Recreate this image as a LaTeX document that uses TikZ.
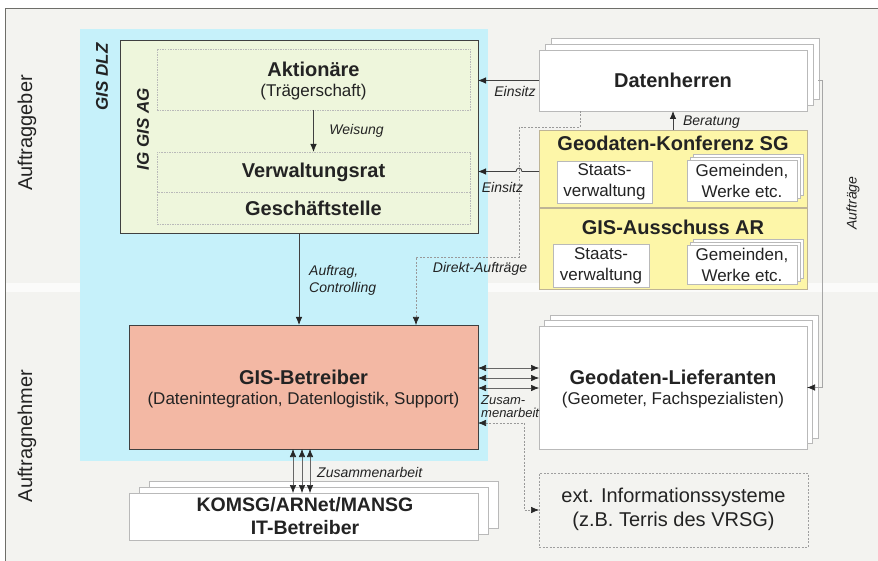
\documentclass[tikz,border=0pt]{standalone}
\usepackage{fontspec}
\setmainfont{Liberation Sans}
\usetikzlibrary{arrows.meta,shadows,calc}
\definecolor{bggray}{RGB}{243,243,240}
\definecolor{cyanfill}{RGB}{198,241,250}
\definecolor{greenfill}{RGB}{238,246,220}
\definecolor{yellowfill}{RGB}{253,246,168}
\definecolor{salmonfill}{RGB}{243,184,164}
\definecolor{framecol}{RGB}{110,110,105}
\definecolor{txtcol}{RGB}{35,35,35}
\definecolor{yborder}{RGB}{190,180,150}
\tikzset{
  plain/.style={inner sep=0, outer sep=0},
  cyanbox/.style={plain, fill=cyanfill},
  greenbox/.style={plain, fill=greenfill, draw=black!75, line width=1pt},
  rowbox/.style={plain, fill=greenfill, draw=gray!55, dash pattern=on 1.5pt off 1pt, line width=0.5pt},
  whitebox/.style={plain, fill=white, draw=gray!55, line width=0.5pt},
  yellowbox/.style={plain, fill=yellowfill, draw=yborder, line width=0.6pt},
  salmonbox/.style={plain, fill=salmonfill, draw=black!75, line width=1pt},
  extbox/.style={plain, draw=gray!75, dash pattern=on 2pt off 1.5pt, line width=0.6pt},
  stack/.style={double copy shadow={shadow xshift=#1, shadow yshift=#1, fill=white, draw=gray!55, line width=0.5pt}},
  headtxt/.style={inner sep=0, text=txtcol, font=\fontsize{20}{24}\selectfont\bfseries},
  subtxt/.style={inner sep=0, text=txtcol, font=\fontsize{17}{21}\selectfont},
  bigtxt/.style={inner sep=0, text=txtcol, font=\fontsize{20}{24}\selectfont},
  rottxt/.style={inner sep=0, text=txtcol, rotate=90, font=\fontsize{17}{20}\selectfont\bfseries\itshape},
  lab/.style={inner sep=0, text=txtcol, font=\fontsize{14}{17}\selectfont\itshape},
  smalllab/.style={inner sep=0, text=txtcol, font=\fontsize{13}{13}\selectfont\itshape},
  tip/.style={Latex[length=8pt,width=6.5pt,color=black!85]},
  arr/.style={-{Latex[length=8pt,width=6.5pt,color=black!85]}, draw=black!75, line width=0.8pt},
  darr/.style={{Latex[length=8pt,width=6.5pt,color=black!85]}-{Latex[length=8pt,width=6.5pt,color=black!85]}, draw=black!60, line width=0.6pt},
  dashln/.style={draw=gray!80, dash pattern=on 2pt off 1.5pt, line width=0.6pt},
  grayln/.style={draw=gray!70, line width=0.7pt},
}
\begin{document}
\begin{tikzpicture}[x=1pt,y=-1pt]
\useasboundingbox (0,0) rectangle (878,561);
\fill[white] (0,0) rectangle (878,561);
\fill[bggray] (5,9) rectangle (878,561);
\fill[white!70!bggray] (5,283) rectangle (878,292);
\draw[framecol, line width=1pt] (878,9) -- (5,9) -- (5,561);

% zones
\node[cyanbox, minimum width=408, minimum height=432] (dlz) at (284,245) {};
\node[bigtxt, rotate=90] (auftraggeber) at (27,133) {Auftraggeber};
\node[bigtxt, rotate=90] (auftragnehmer) at (27,436) {Auftragnehmer};
\node[rottxt] (gisdlz) at (102,77) {GIS DLZ};

% IG GIS AG
\node[greenbox, minimum width=358, minimum height=193] (ig) at (299,137.5) {};
\node[rowbox, minimum width=313, minimum height=61] (ak) at (313.5,79.5) {};
\node[rowbox, minimum width=313, minimum height=40] (vr) at (313.5,172) {};
\node[rowbox, minimum width=313, minimum height=32] (gs) at (313.5,208) {};
\node[rottxt] (iggisag) at (143,129) {IG GIS AG};
\node[headtxt] (akt) at (313.5,69) {Aktionäre};
\node[subtxt] (akts) at (313.5,92) {(Trägerschaft)};
\node[headtxt] (vrt) at (313.5,172) {Verwaltungsrat};
\node[headtxt] (gst) at (313.5,208) {Geschäftstelle};

% Datenherren
\node[whitebox, stack=6pt, minimum width=268, minimum height=61] (dh) at (673,80.5) {};
\node[headtxt] (dht) at (673,80) {Datenherren};

% Geodaten-Konferenz SG
\node[yellowbox, minimum width=268, minimum height=77] (gk) at (673,168.5) {};
\node[headtxt] (gkt) at (673,143) {Geodaten-Konferenz SG};
\node[whitebox, minimum width=95, minimum height=42, align=center, subtxt] (sv1) at (604.5,182) {Staats-\\verwaltung};
\node[whitebox, stack=3pt, minimum width=110, minimum height=41, align=center, subtxt] (gw1) at (742,180.5) {Gemeinden,\\Werke etc.};

% GIS-Ausschuss AR
\node[yellowbox, minimum width=268, minimum height=81] (ga) at (673,248.5) {};
\node[headtxt] (gat) at (673,227) {GIS-Ausschuss AR};
\node[whitebox, minimum width=96, minimum height=43, align=center, subtxt] (sv2) at (601,265.5) {Staats-\\verwaltung};
\node[whitebox, stack=3pt, minimum width=110, minimum height=39, align=center, subtxt] (gw2) at (742,264.5) {Gemeinden,\\Werke etc.};

% GIS-Betreiber
\node[salmonbox, minimum width=349, minimum height=124] (gb) at (303.5,387) {};
\node[headtxt] (gbt) at (303.5,377) {GIS-Betreiber};
\node[subtxt] (gbs) at (303.5,400) {(Datenintegration, Datenlogistik, Support)};

% Geodaten-Lieferanten
\node[whitebox, stack=5.5pt, minimum width=268, minimum height=123] (gl) at (673,387.5) {};
\node[headtxt] (glt) at (673,377) {Geodaten-Lieferanten};
\node[subtxt] (gls) at (673,400) {(Geometer, Fachspezialisten)};

% ext. Informationssysteme
\node[extbox, minimum width=269, minimum height=74] (ex) at (673.5,510) {};
\node[bigtxt] (ext1) at (673.5,497) {ext. Informationssysteme};
\node[bigtxt] (ext2) at (673.5,521) {(z.B. Terris des VRSG)};

% IT-Betreiber
\node[whitebox, double copy shadow={shadow xshift=10pt, shadow yshift=6pt, fill=white, draw=gray!55, line width=0.5pt}, minimum width=349, minimum height=47] (it) at (303.5,516.5) {};
\node[headtxt, font=\fontsize{19.5}{23}\selectfont\bfseries] (itt1) at (305,505) {KOMSG/ARNet/MANSG};
\node[headtxt, font=\fontsize{19.5}{23}\selectfont\bfseries] (itt2) at (305,528) {IT-Betreiber};

% connectors
\draw[arr] (ak.south) -- (vr.north);
\node[lab] (weisung) at (356.5,131) {Weisung};

\draw[arr] (dh.west) -- (dh.west -| ig.east);
\node[lab] (einsitz1) at (515,91) {Einsitz};

\coordinate (d1) at (580,127);
\coordinate (d2) at (519,257);
\coordinate (d3) at (416,0);
\draw[dashln] (dh.south -| d1) -- (d1) -| (d2) -| ([yshift=4pt]d3 |- gb.north);
\draw[arr, draw=gray!80, line width=0.6pt] ([yshift=6pt]d3 |- gb.north) -- (d3 |- gb.north);
\node[lab] (direkt) at (480,269) {Direkt-Aufträge};

\draw[arr] ([yshift=-3pt]gk.west) -- ($([yshift=-3pt]gk.west -| d2)+(3,0)$)
   .. controls +(0,-4.5) and +(0,-4.5) .. ($([yshift=-3pt]gk.west -| d2)+(-3,0)$)
   -- ([yshift=-3pt]gk.west -| ig.east);
\node[lab] (einsitz2) at (502.5,187) {Einsitz};

\draw[arr] (gk.north) -- (dh.south);
\node[lab] (beratung) at (711.5,122) {Beratung};

\draw[arr] (ig.south) -- (ig.south |- gb.north);
\node[lab, anchor=west] (auftrag1) at (309,272) {Auftrag,};
\node[lab, anchor=west] (auftrag2) at (309,289) {Controlling};

\coordinate (a1) at (822,80.5);
\draw[grayln, -{Latex[length=8pt,width=6.5pt,color=black!85]}] ([xshift=11pt]dh.east) -- (a1) |- (gl.east);
\node[lab, rotate=90] (auftraege) at (853,203) {Aufträge};

\foreach \dy in {19,9,-1}{
  \draw[darr] ([yshift=\dy pt]gb.east) -- ([yshift=\dy pt]gb.east -| gl.west);
}
\node[smalllab, anchor=west] (zus1) at (481,400) {Zusam-};
\node[smalllab, anchor=west] (zus2) at (481,413) {menarbeit};

\coordinate (e1) at (524,0);
\draw[dashln, {Latex[length=8pt,width=6.5pt,color=black!85]}-{Latex[length=8pt,width=6.5pt,color=black!85]}] ([yshift=-36pt]gb.east) -- ([yshift=-36pt]gb.east -| e1) |- (ex.west);

\foreach \dx in {-10.5,-1.5,6.5}{
  \draw[darr] ([xshift=\dx pt]gb.south) -- ([xshift=\dx pt]gb.south |- it.north);
}
\node[lab, anchor=west] (zusammen) at (317,472) {Zusammenarbeit};
\end{tikzpicture}
\end{document}
